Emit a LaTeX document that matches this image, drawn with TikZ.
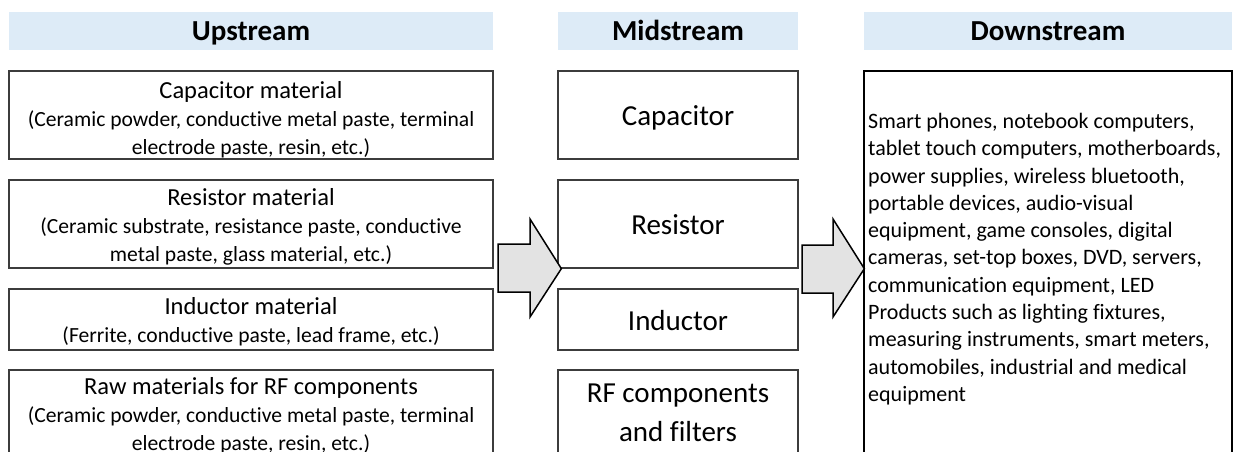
\documentclass[tikz,border=0pt]{standalone}
\usepackage{fontspec}
\setmainfont{Carlito}[Ligatures={NoCommon}]
\definecolor{hdrfill}{HTML}{DDEBF7}
\definecolor{boxline}{HTML}{3C3C3C}
\definecolor{arrfill}{HTML}{E3E3E3}
\newcommand{\ttl}[1]{{\fontsize{24.5}{28}\selectfont #1}}
\begin{document}
\begin{tikzpicture}[x=1pt,y=-1pt,
  hdr/.style={fill=hdrfill, draw=none, minimum height=38pt, inner sep=0pt,
    text height=19pt, text depth=0pt,
    font=\fontsize{29}{34}\selectfont\bfseries},
  upbox/.style={draw=boxline, line width=1.3pt, fill=white, minimum width=484pt, inner sep=0pt},
  uptext/.style={inner sep=0pt, align=center, font=\fontsize{21.6}{28}\selectfont},
  midbox/.style={draw=boxline, line width=1.3pt, fill=white, minimum width=240pt, inner sep=0pt},
  midtext/.style={inner sep=0pt, align=center, font=\fontsize{29}{39}\selectfont},
  blockarrow/.style={draw=black, line width=1.5pt, fill=arrfill, line join=miter}]
\clip (0,0) rectangle (1234,452);
\fill[white] (0,0) rectangle (1234,452);
% headers
\node[hdr, minimum width=484pt] (hup) at (251,31) {Upstream};
\node[hdr, minimum width=240pt] (hmid) at (678,31) {Midstream};
\node[hdr, minimum width=368pt] (hdown) at (1048,31) {Downstream};
% upstream boxes
\node[upbox, minimum height=88pt] (ucap) at (251,115) {};
\node[upbox, minimum height=88pt] (ures) at (251,224) {};
\node[upbox, minimum height=61pt] (uind) at (251,319.5) {};
\node[upbox, minimum height=88pt] (urf) at (251,414) {};
\node[uptext] (ucapt) at (251,119.7) {\ttl{Capacitor material}\\(Ceramic powder, conductive metal paste, terminal\\electrode paste, resin, etc.)};
\node[uptext] (urest) at (251,226.7) {\ttl{Resistor material}\\(Ceramic substrate, resistance paste, conductive\\metal paste, glass material, etc.)};
\node[uptext] (uindt) at (251,321.7) {\ttl{Inductor material}\\(Ferrite, conductive paste, lead frame, etc.)};
\node[uptext] (urft) at (251,415.7) {\ttl{Raw materials for RF components}\\(Ceramic powder, conductive metal paste, terminal\\electrode paste, resin, etc.)};
% midstream
\node[midbox, minimum height=88pt] (mcap) at (678,115) {};
\node[midbox, minimum height=88pt] (mres) at (678,224) {};
\node[midbox, minimum height=61pt] (mind) at (678,319.5) {};
\node[midbox, minimum height=90pt] (mrf) at (678,415) {};
\node[midtext, text height=21pt, text depth=0pt] (mcapt) at (mcap.center) {Capacitor};
\node[midtext, text height=21pt, text depth=0pt] (mrest) at (mres.center) {Resistor};
\node[midtext, text height=21pt, text depth=0pt] (mindt) at (mind.center) {Inductor};
\node[midtext] (mrft) at (678,412.5) {RF components\\and filters};
% downstream
\node[draw=black, line width=1.3pt, minimum width=368pt, minimum height=400pt, inner sep=0pt] (dbox) at (1048,271) {};
\node[anchor=north west, inner sep=0pt, align=left, font=\fontsize{22}{27.3}\selectfont] (dtext) at (868,113)
{Smart phones, notebook computers,\\tablet touch computers, motherboards,\\power supplies, wireless bluetooth,\\portable devices, audio-visual\\equipment, game consoles, digital\\cameras, set-top boxes, DVD, servers,\\communication equipment, LED\\Products such as lighting fixtures,\\measuring instruments, smart meters,\\automobiles, industrial and medical\\equipment};
% block arrows
\coordinate (a1) at (mres.south west);
\draw[blockarrow] (498,244) -- (530,244) -- (530,219) -- ([xshift=4pt]a1) -- (530,317) -- (530,292) -- (498,292) -- cycle;
\coordinate (a2) at (dbox.west |- mres.south);
\draw[blockarrow] (802,245) -- (833,245) -- (833,219) -- ([xshift=1pt]a2) -- (833,317) -- (833,293) -- (802,293) -- cycle;
\end{tikzpicture}
\end{document}
